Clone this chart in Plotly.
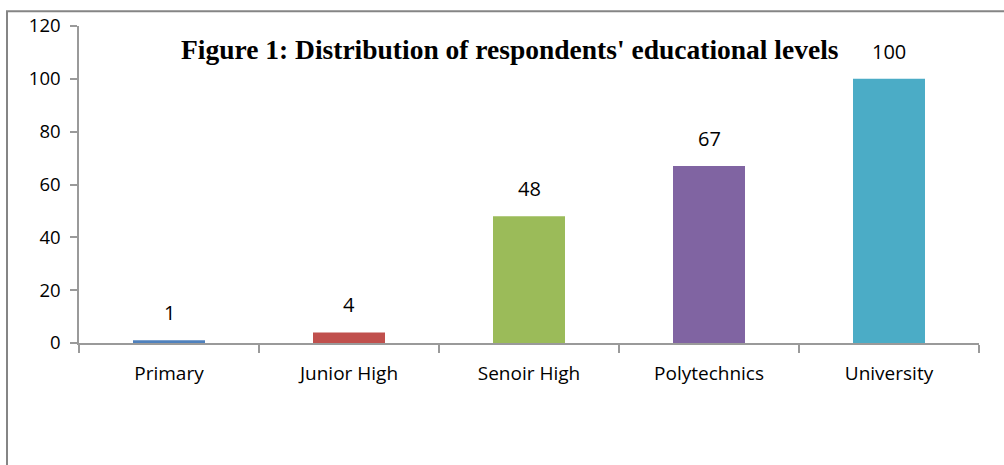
import plotly.graph_objects as go

# Respondents by highest education level
levels = ["Primary", "Junior High", "Senoir High", "Polytechnics", "University"]
counts = [1, 4, 48, 67, 100]
bar_colors = ["#4F81BD", "#C0504D", "#9BBB59", "#8064A2", "#4BACC6"]
y_ticks = [0, 20, 40, 60, 80, 100, 120]

title_text = "Figure 1: Distribution of respondents' educational levels"

W, H = 1004, 465
ML, MR, MT, MB = 79, 25, 21, 122

fig = go.Figure(
    go.Bar(
        x=levels,
        y=counts,
        marker=dict(color=bar_colors, line=dict(width=0)),
        width=0.4,
        hoverinfo="x+y",
    )
)

# value labels above each bar
for lvl, val in zip(levels, counts):
    fig.add_annotation(
        x=lvl, y=val, xref="x", yref="y",
        text=str(val), showarrow=False,
        yanchor="bottom", yshift=12,
        font=dict(family="Open Sans", size=20, color="#000000"),
    )

# chart title inside the plot area
fig.add_annotation(
    x=(509.5 - ML) / (W - ML - MR), y=(H - MB - 45) / (H - MT - MB),
    xref="paper", yref="paper",
    text="<b>" + title_text + "</b>", showarrow=False,
    xanchor="center", yanchor="middle",
    font=dict(family="Liberation Serif", size=27.5, color="#000000"),
)

# outer frame of the chart object
pw, ph = W - ML - MR, H - MT - MB
fig.add_shape(
    type="rect", xref="paper", yref="paper",
    x0=(7 - ML) / pw, x1=(W + 20 - ML) / pw,
    y0=(H - MB - (H + 20)) / ph, y1=(H - MB - 6) / ph,
    line=dict(color="#858585", width=2),
    fillcolor="rgba(0,0,0,0)",
    layer="below",
)

axis_col = "#9a9a9a"
fig.update_layout(
    width=W, height=H,
    margin=dict(l=ML, r=MR, t=MT, b=MB, pad=0),
    paper_bgcolor="white", plot_bgcolor="white",
    showlegend=False,
    bargap=0.6,
    xaxis=dict(
        showline=True, linecolor=axis_col, linewidth=1.5,
        ticks="outside", tickson="boundaries", ticklen=8, tickcolor=axis_col,
        tickwidth=1.5,
        showgrid=False, zeroline=False,
        ticklabelstandoff=12,
        tickfont=dict(family="Open Sans", size=19, color="#000000"),
    ),
    yaxis=dict(
        range=[0, 120], tickvals=y_ticks,
        showline=True, linecolor=axis_col, linewidth=1.5,
        ticks="outside", ticklen=7, tickcolor=axis_col, tickwidth=1.5,
        showgrid=False, zeroline=False,
        ticklabelstandoff=6,
        tickfont=dict(family="Open Sans", size=18.5, color="#000000"),
    ),
)

fig.write_html("out.html")
